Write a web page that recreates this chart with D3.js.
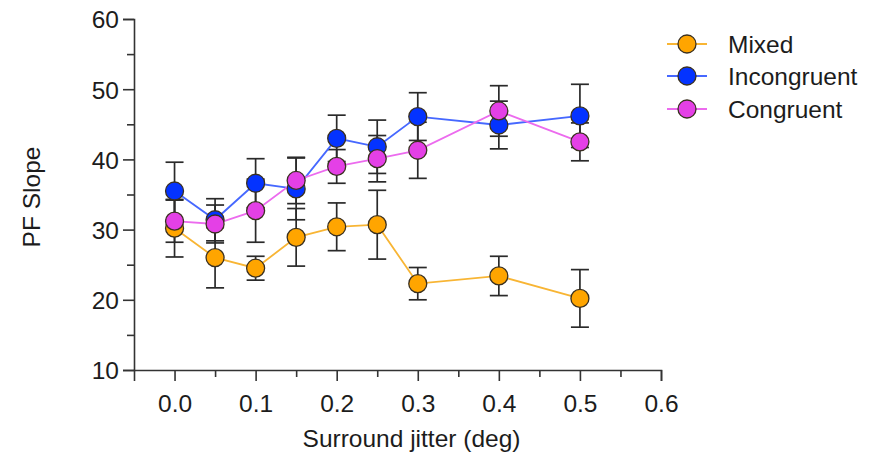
<!DOCTYPE html>
<html><head><meta charset="utf-8">
<script src="https://cdn.jsdelivr.net/npm/d3@7"></script>
<style>body{margin:0;background:#fff}svg{display:block}</style>
</head><body>
<script>
const jitter = [0.0, 0.05, 0.1, 0.15, 0.2, 0.25, 0.3, 0.4, 0.5];
const seriesNames = ["Mixed", "Incongruent", "Congruent"];
const mixedMean = [30.2, 26.0, 24.5, 28.9, 30.4, 30.7, 22.3, 23.4, 20.2];
const mixedErr  = [4.1, 4.3, 1.7, 4.1, 3.4, 4.9, 2.3, 2.8, 4.1];
const incongMean = [35.5, 31.4, 36.6, 35.8, 43.0, 41.8, 46.1, 44.9, 46.2];
const incongErr  = [4.1, 3.0, 3.5, 4.4, 3.3, 3.8, 3.4, 3.4, 4.5];
const congMean = [31.2, 30.8, 32.7, 37.0, 39.0, 40.1, 41.3, 46.9, 42.5];
const congErr  = [3.0, 2.7, 4.5, 3.3, 2.4, 3.3, 4.0, 3.6, 2.7];
const xTicks = [0.0, 0.1, 0.2, 0.3, 0.4, 0.5, 0.6];
const yTicks = [10, 20, 30, 40, 50, 60];
const fills = ["#FFA500", "#0433FF", "#E440E6"];
const lineCols = ["#F8B534", "#4668FF", "#EC6BEE"];

const W = 880, H = 460;
const FS = "24.5px";
const txtCol = "#1c1c1c";
const svg = d3.select("body").append("svg").attr("width", W).attr("height", H)
  .style("font-family", "'Liberation Sans', Arial, sans-serif");

const x = d3.scaleLinear().domain([-0.05, 0.6]).range([134, 661]);
const y = d3.scaleLinear().domain([10, 60]).range([370, 19]);
const axisCol = "#333";

// Y axis
const yAxis = svg.append("g").attr("transform", `translate(${x(-0.05)},0)`)
  .call(d3.axisLeft(y).tickValues(yTicks).tickSize(11).tickPadding(4).tickFormat(d3.format("d")));
svg.append("g").attr("transform", `translate(${x(-0.05)},0)`)
  .call(d3.axisLeft(y).tickValues(d3.range(15, 60, 10)).tickSize(7).tickFormat(""))
  .call(g => g.select(".domain").remove());
// X axis
const xAxis = svg.append("g").attr("transform", `translate(0,${y(10)})`)
  .call(d3.axisBottom(x).tickValues(xTicks).tickSize(11).tickPadding(14).tickFormat(d3.format(".1f")));
svg.append("g").attr("transform", `translate(0,${y(10)})`)
  .call(d3.axisBottom(x).tickValues(d3.range(0.05, 0.6, 0.1)).tickSize(7).tickFormat(""))
  .call(g => g.select(".domain").remove());

svg.selectAll(".domain").attr("stroke", axisCol).attr("stroke-width", 1.6);
svg.selectAll(".tick line").attr("stroke", axisCol).attr("stroke-width", 1.6);
svg.selectAll(".tick text").attr("fill", txtCol).style("font-size", FS);
yAxis.selectAll(".tick text").attr("dy", "0.36em");

// Axis titles
svg.append("text").attr("x", (x(-0.05) + x(0.6)) / 2 + 14).attr("y", 447)
  .attr("text-anchor", "middle").attr("fill", txtCol).style("font-size", FS)
  .text("Surround jitter (deg)");
svg.append("text").attr("transform", "translate(40,197) rotate(-90)")
  .attr("text-anchor", "middle").attr("fill", txtCol).style("font-size", FS)
  .text("PF Slope");

const data = [
  {name: seriesNames[0], mean: mixedMean, err: mixedErr},
  {name: seriesNames[1], mean: incongMean, err: incongErr},
  {name: seriesNames[2], mean: congMean, err: congErr}
];

const plot = svg.append("g");
const line = d3.line().x(d => x(d.x)).y(d => y(d.y));
// error bars first
data.forEach((s, i) => {
  const pts = jitter.map((j, k) => ({x: j, y: s.mean[k], e: s.err[k]}));
  const eg = plot.append("g").attr("stroke", "#2a2a2a").attr("stroke-width", 1.7);
  pts.forEach(p => {
    eg.append("line").attr("x1", x(p.x)).attr("x2", x(p.x)).attr("y1", y(p.y - p.e)).attr("y2", y(p.y + p.e));
    [p.y - p.e, p.y + p.e].forEach(v => eg.append("line")
      .attr("x1", x(p.x) - 9).attr("x2", x(p.x) + 9).attr("y1", y(v)).attr("y2", y(v)));
  });
});
data.forEach((s, i) => {
  const pts = jitter.map((j, k) => ({x: j, y: s.mean[k]}));
  plot.append("path").datum(pts).attr("d", line).attr("fill", "none")
    .attr("stroke", lineCols[i]).attr("stroke-width", 1.8);
});
data.forEach((s, i) => {
  const pts = jitter.map((j, k) => ({x: j, y: s.mean[k]}));
  plot.append("g").selectAll("circle").data(pts).join("circle")
    .attr("cx", d => x(d.x)).attr("cy", d => y(d.y)).attr("r", 9)
    .attr("fill", fills[i]).attr("stroke", "#3a3020").attr("stroke-width", 1.3);
});

// Legend
const legY = [44, 76, 109];
const lg = svg.append("g");
data.forEach((s, i) => {
  lg.append("line").attr("x1", 667).attr("x2", 707).attr("y1", legY[i]).attr("y2", legY[i])
    .attr("stroke", lineCols[i]).attr("stroke-width", 1.8);
  lg.append("circle").attr("cx", 687).attr("cy", legY[i]).attr("r", 9)
    .attr("fill", fills[i]).attr("stroke", "#3a3020").attr("stroke-width", 1.3);
  lg.append("text").attr("x", 728).attr("y", legY[i]).attr("dy", "0.36em")
    .attr("fill", txtCol).style("font-size", FS).text(s.name);
});
</script>
</body></html>
